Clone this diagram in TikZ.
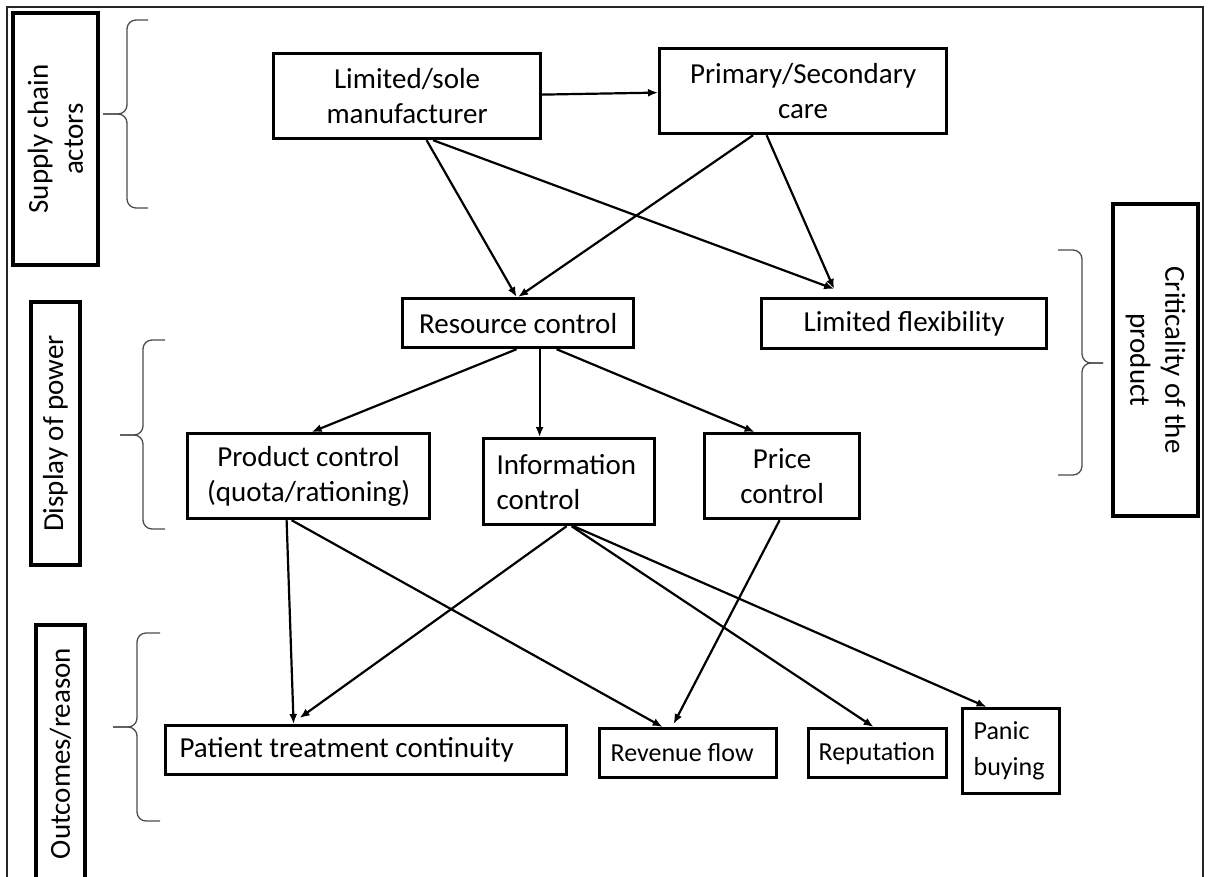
\documentclass[tikz,border=0pt]{standalone}
\usepackage{fontspec}
\setmainfont{Carlito}
\usetikzlibrary{arrows.meta}

\begin{document}
\begin{tikzpicture}[
      x=1pt, y=-1pt,
      box/.style={
        rectangle,
        draw=black,
        line width=3.2pt,
        inner sep=0pt,
        align=center,
        anchor=north west,
        font=\fontsize{29}{35}\selectfont
      },
      lbox/.style={box, align=flush left, inner xsep=11pt},
      sbox/.style={lbox, font=\fontsize{26}{36}\selectfont},
      side/.style={box, anchor=center},
      link/.style={-{Latex[length=10pt,width=8pt]}, line width=2.2pt},
      curly/.style={line width=1.3pt, black!70, rounded corners=9pt}
    ]

    \useasboundingbox (0,0) rectangle (1208,876);
    \draw [line width=2pt, black!85] (7,880) -- (7,7) -- (1203,7) -- (1203,880);

    % side labels
    \node [side, rotate=90, minimum width=252pt, minimum height=85pt] (sca) at (55.5,139) {Supply chain\\actors};
    \node [side, rotate=90, minimum width=263pt, minimum height=49pt] (dop) at (55.5,433.5) {Display of power};
    \node [side, rotate=90, minimum width=257pt, minimum height=49pt] (outc) at (60.5,753.5) {Outcomes/reason};
    \node [side, rotate=-90, minimum width=312pt, minimum height=85pt] (crit) at (1155.5,360) {Criticality of the\\product};

    \draw [curly] (148,20) -- (127,20) -- (127,114) -- (103,114);
    \draw [curly] (148,208) -- (127,208) -- (127,114) -- (103,114);
    \draw [curly] (165,340) -- (143,340) -- (143,435) -- (120,435);
    \draw [curly] (165,529) -- (143,529) -- (143,435) -- (120,435);
    \draw [curly] (160,633) -- (137,633) -- (137,727) -- (113,727);
    \draw [curly] (160,821) -- (137,821) -- (137,727) -- (113,727);
    \draw [curly] (1058,250) -- (1082,250) -- (1082,363) -- (1103,363);
    \draw [curly] (1058,475) -- (1082,475) -- (1082,363) -- (1103,363);

    % boxes
    \node [box, minimum width=267pt, minimum height=85pt] (lsm) at (272,52) {Limited/sole\\manufacturer};
    \node [box, minimum width=287pt, minimum height=85pt] (psc) at (658,47) {Primary/Secondary\\care};
    \node [box, minimum width=231pt, minimum height=49pt] (rc) at (401,297) {Resource control};
    \node [box, minimum width=285pt, minimum height=50pt] (lf) at (760,297) {Limited flexibility};
    \node [box, minimum width=242pt, minimum height=85pt] (pc) at (186,432) {Product control\\(quota/rationing)};
    \node [lbox, text width=145pt, inner xsep=13pt, minimum height=86pt] (ic) at (482,437) {Information\\control};
    \node [box, minimum width=155pt, minimum height=85pt] (prc) at (703,432) {Price\\control};
    \node [lbox, text width=373pt, inner xsep=14pt, minimum height=49pt] (ptc) at (164,724) {Patient treatment continuity};
    \node [sbox, text width=155pt, minimum height=49pt] (rf) at (598,727) {Revenue flow};
    \node [sbox, text width=118pt, inner xsep=10pt, minimum height=49pt] (rep) at (807,727) {Reputation};
    \node [sbox, text width=75pt, minimum height=85pt] (pb) at (961,707) {Panic\\buying};

    % arrows
    \draw [link] ([yshift=1.5pt]lsm.east) -- ([yshift=-1.5pt]psc.west);
    \draw [link] ([xshift=19.5pt]lsm.south) -- ([xshift=-1.5pt]rc.north);
    \draw [link] ([xshift=-50pt]psc.south) -- ([xshift=0pt]rc.north);
    \draw [link] ([xshift=26pt]lsm.south) -- ([xshift=-70pt,yshift=8pt]lf.north);
    \draw [link] ([xshift=-36.5pt]psc.south) -- ([xshift=-70pt,yshift=8pt]lf.north);
    \draw [link] ([xshift=-1.5pt]rc.south) -- ([xshift=3pt]pc.north);
    \draw [link] ([xshift=21.5pt]rc.south) -- ([xshift=-29.5pt]ic.north);
    \draw [link] ([xshift=38.5pt]rc.south) -- ([xshift=-27.5pt]prc.north);
    \draw [link] ([xshift=-22pt]pc.south) -- ([xshift=-72.5pt]ptc.north);
    \draw [link] ([xshift=-17pt]pc.south) -- ([xshift=-25.5pt]rf.north);
    \draw [link] ([xshift=-2.5pt]ic.south) -- ([xshift=-66.5pt,yshift=6pt]ptc.north);
    \draw [link] ([xshift=2.5pt]ic.south) -- ([xshift=-4pt]rep.north);
    \draw [link] ([xshift=4.5pt]ic.south) -- ([xshift=-24.5pt]pb.north);
    \draw [link] ([xshift=-2.5pt]prc.south) -- ([xshift=-14.5pt,yshift=3pt]rf.north);

\end{tikzpicture}
\end{document}
